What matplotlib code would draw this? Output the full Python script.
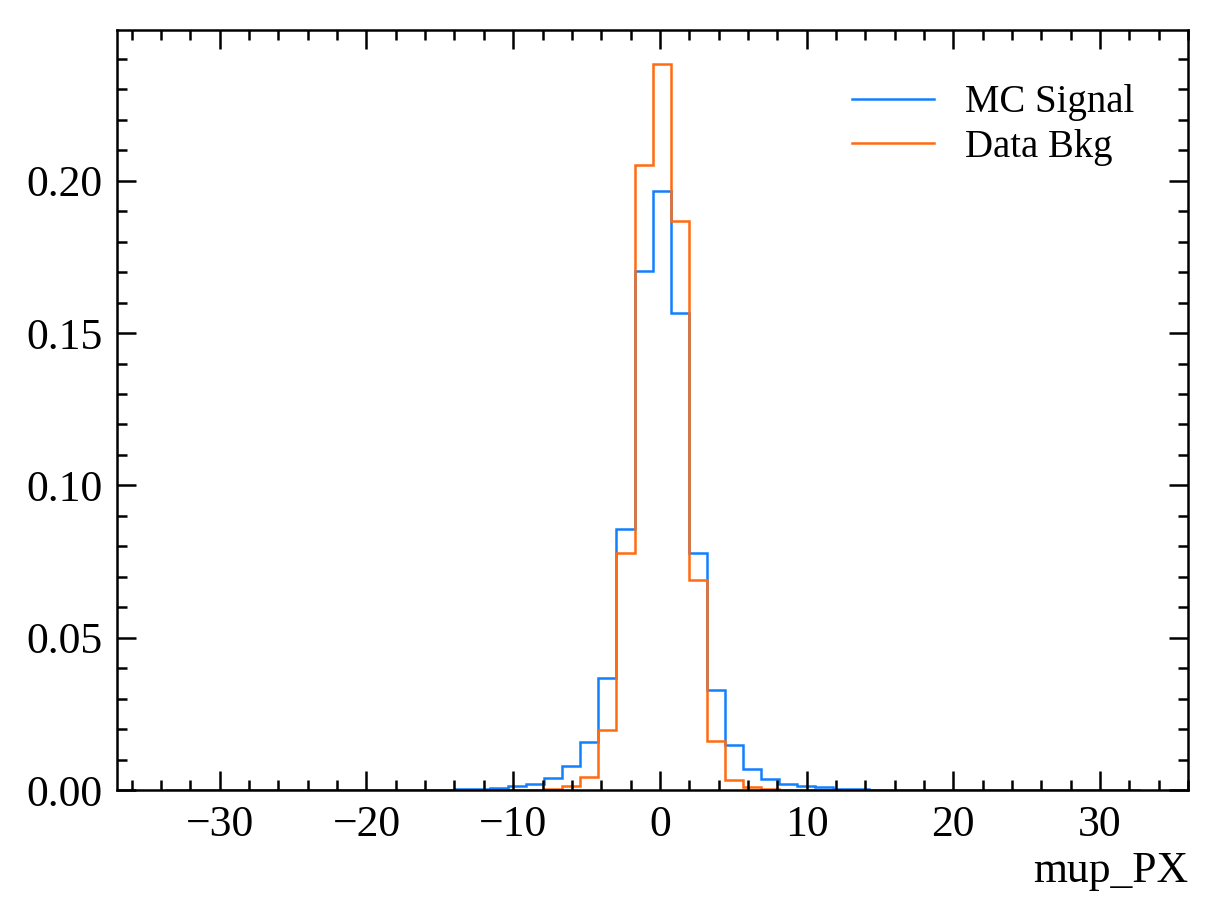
import matplotlib
matplotlib.use("Agg")
import matplotlib.pyplot as plt
import numpy as np
from matplotlib.ticker import MultipleLocator

# binning of mup_PX
bin_lo = -33.7
bin_hi = 32.7
n_bins = 54

# normalised bin contents (zeros outside the core)
mc_signal = [0.0] * 16 + [
    0.0004, 0.0004, 0.0008, 0.0013, 0.0020, 0.0038, 0.0079, 0.0157,
    0.0367, 0.0858, 0.1704, 0.1965, 0.1566, 0.0779, 0.0329, 0.0147,
    0.0069, 0.0037, 0.0019, 0.0013, 0.0009, 0.0005, 0.0005,
] + [0.0] * 15
data_bkg = [0.0] * 20 + [
    0.0001, 0.0005, 0.0013, 0.0044, 0.0197, 0.0779, 0.2053, 0.2383,
    0.1867, 0.0691, 0.0161, 0.0034, 0.0011, 0.0005,
] + [0.0] * 20

labels = ["MC Signal", "Data Bkg"]
colors = ["#1180ff", "#ff6b10"]

plt.rcParams["font.family"] = ["Liberation Serif", "DejaVu Serif"]
plt.rcParams["font.size"] = 10
plt.rcParams["axes.linewidth"] = 0.6

edges = np.linspace(bin_lo, bin_hi, n_bins + 1)

fig = plt.figure(figsize=(4.06, 3.06), dpi=300)
ax = fig.add_axes([0.0961, 0.1394, 0.8793, 0.8279])

ax.stairs(mc_signal, edges, color=colors[0], lw=0.6, label=labels[0])
ax.stairs(data_bkg, edges, color=colors[1], lw=0.6, label=labels[1])

ax.set_xlim(-37.0, 36.0)
ax.set_ylim(0, 0.2495)
ax.xaxis.set_major_locator(MultipleLocator(10))
ax.xaxis.set_minor_locator(MultipleLocator(2))
ax.yaxis.set_major_locator(MultipleLocator(0.05))
ax.yaxis.set_minor_locator(MultipleLocator(0.01))
ax.tick_params(which="both", direction="in", top=True, right=True, width=0.6,
               labelsize=10.5)
ax.tick_params(which="major", length=4.5)
ax.tick_params(which="minor", length=2.4)

ax.set_xlabel("mup_PX", loc="right", fontsize=10.5, labelpad=1.5)
ax.legend(frameon=False, loc="upper right", fontsize=9.3,
          borderaxespad=1.0, labelspacing=0.2, handlelength=2.1)

fig.savefig("out.png", dpi=300)
